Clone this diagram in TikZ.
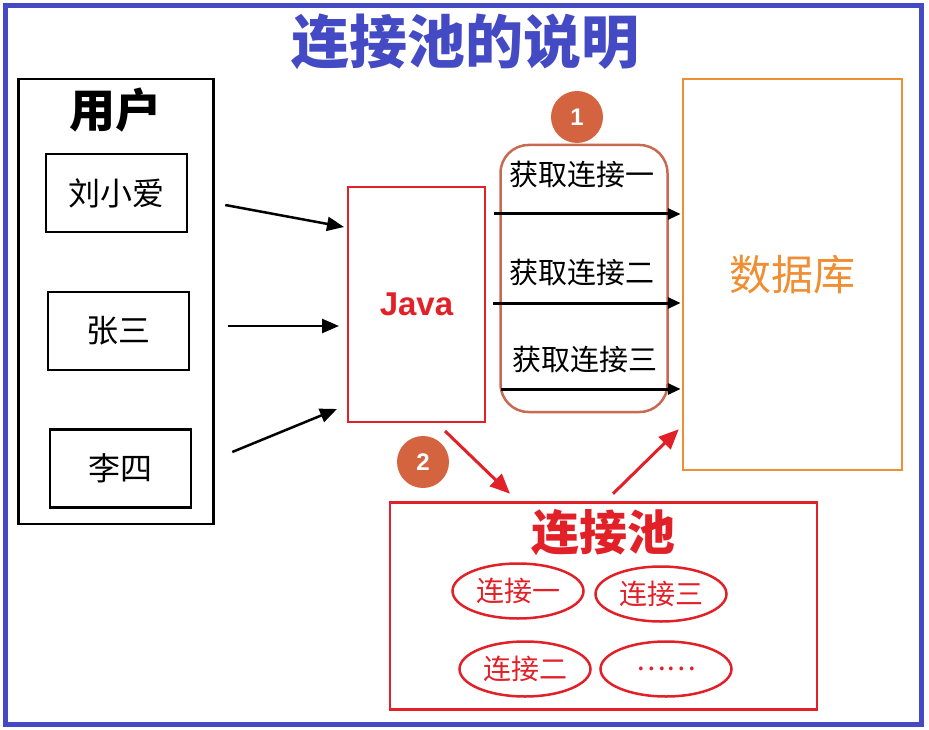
\documentclass[tikz,border=0pt]{standalone}
\usepackage{fontspec}
\setsansfont{Liberation Sans}
\newfontfamily\cjk{Noto Sans CJK SC}
\usepackage{tikz}
\usetikzlibrary{arrows.meta,shapes.geometric}

\definecolor{frameblue}{RGB}{68,74,196}
\definecolor{javared}{RGB}{226,32,40}
\definecolor{dborange}{RGB}{240,142,52}
\definecolor{linkbrown}{RGB}{200,106,82}
\definecolor{numorange}{RGB}{212,100,64}
\newcommand{\fsz}[1]{\fontsize{#1}{#1}\selectfont}

\begin{document}
\begin{tikzpicture}[x=1pt,y=-1pt,
    box/.style={draw,line width=2.5pt,inner sep=0pt},
    member/.style={box,minimum width=141pt,minimum height=78pt,font=\cjk\fsz{32}},
    getlbl/.style={font=\cjk\fsz{29}},
    pooled/.style={draw=javared,ellipse,line width=2.5pt,minimum width=131pt,minimum height=55pt,inner sep=0pt,text=javared,font=\cjk\fsz{28}},
    num/.style={circle,fill=numorange,text=white,minimum size=52pt,inner sep=0pt,font=\sffamily\bfseries\fsz{24}},
    blk/.style={-{Triangle[length=17pt,width=14pt]},line width=2.5pt},
    thn/.style={-{Triangle[length=13pt,width=11pt]},line width=3pt},
    redarr/.style={-{Triangle[length=20pt,width=17pt]},line width=3pt,javared}]
\useasboundingbox (0,0) rectangle (929,730);
\draw[frameblue,line width=5pt] (5.5,5.5) rectangle (921.5,724.5);

\node[font=\cjk\bfseries\fsz{58},text=frameblue] (title) at (465,42) {连接池的说明};

% users
\node[box,minimum width=195pt,minimum height=445pt] (users) at (116,301.5) {};
\node[font=\cjk\bfseries\fsz{46}] (usrlbl) at (115,110) {用户};
\node[member] (liu) at (116.5,193) {刘小爱};
\node[member] (zhang) at (118.5,331) {张三};
\node[member] (li) at (120.5,468.5) {李四};

\node[box,draw=javared,line width=2pt,minimum width=137pt,minimum height=235pt,text=javared,font=\sffamily\bfseries\fsz{33}] (java) at (416.5,304.5) {Java};

% getting connections
\node[draw=linkbrown,line width=2.5pt,rounded corners=28pt,minimum width=167pt,minimum height=267pt] (links) at (584,278.5) {};
\node[num] (n1) at (577,117) {1};
\node[getlbl] (get1) at (582,175) {获取连接一};
\node[getlbl] (get2) at (582,273) {获取连接二};
\node[getlbl] (get3) at (585,360) {获取连接三};

\node[box,draw=dborange,minimum width=219pt,minimum height=391pt,text=dborange,font=\cjk\fsz{42}] (db) at (792.5,274.5) {数据库};

% pool
\node[num] (n2) at (423,462) {2};
\node[box,draw=javared,minimum width=427pt,minimum height=207pt] (pool) at (603.5,606) {};
\node[font=\cjk\bfseries\fsz{48},text=javared] (pooltitle) at (603,533) {连接池};
\node[pooled] (c1) at (518,591) {连接一};
\node[pooled] (c3) at (661,594) {连接三};
\node[pooled] (c2) at (525,669) {连接二};
\node[pooled] (cx) at (666,669) {……};

\path[blk] ([xshift=10.5pt,yshift=-12pt]users.east |- liu) edge ([xshift=-3pt,yshift=77.5pt]java.west);
\path[blk] ([xshift=13.5pt,yshift=5pt]users.east |- zhang) edge ([xshift=-8pt,yshift=-21.5pt]java.west);
\path[blk] ([xshift=17.5pt,yshift=16.5pt]users.east |- li) edge ([xshift=-10pt,yshift=-104.5pt]java.west);

\path[thn] ([xshift=8pt,yshift=-39pt]java.east |- get1) edge ([xshift=-1pt,yshift=-39pt]db.west |- get1);
\path[thn] ([xshift=7pt,yshift=-30pt]java.east |- get2) edge ([xshift=-1pt,yshift=-30pt]db.west |- get2);
\path[thn] ([xshift=15pt,yshift=-29pt]java.east |- get3) edge ([xshift=-1pt,yshift=-29pt]db.west |- get3);

\path[redarr] ([xshift=28.5pt,yshift=-8pt]java.south) edge ([xshift=-93.5pt,yshift=7.5pt]pool.north);
\path[redarr] ([xshift=9.5pt,yshift=7.5pt]pool.north) edge ([xshift=-3pt,yshift=42pt]db.south west);
\end{tikzpicture}
\end{document}
